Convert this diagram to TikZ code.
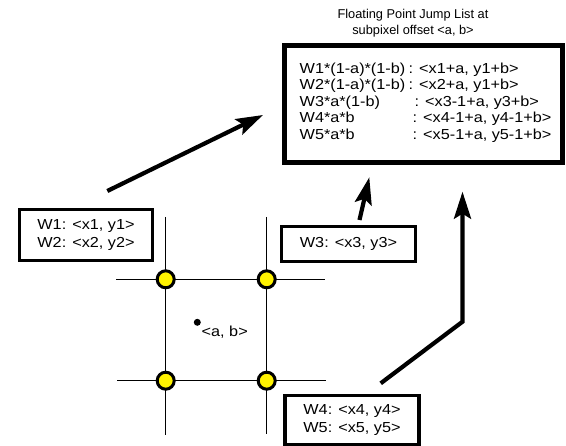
\documentclass[tikz,border=0pt]{standalone}
\usepackage{fontspec}
\setmainfont[FakeStretch=1.12]{Liberation Sans}
\newfontfamily\titlefont{Liberation Sans}
\usetikzlibrary{arrows.meta}
\tikzset{
  box/.style={draw, line width=3.6pt, rectangle, inner sep=0pt, align=center,
    font=\fontsize{14.5}{18}\selectfont},
  bigbox/.style={draw, line width=5pt, rectangle, inner sep=0pt},
  lline/.style={anchor=base west, inner sep=0pt, font=\fontsize{14.5}{16.5}\selectfont},
  gridline/.style={line width=1.3pt},
  vertex/.style={circle, draw, fill=yellow, line width=3pt, minimum size=17pt, inner sep=0pt},
  bigarrow/.style={line width=4.2pt, -{Stealth[length=27pt, width=17pt, inset=5pt]}},
}
\begin{document}
\begin{tikzpicture}[x=1pt, y=-1pt]
\useasboundingbox (0,0) rectangle (566,446);
% title
\node[align=center, font=\titlefont\fontsize{12.8}{16}\selectfont] (title) at (413,23)
  {Floating Point Jump List at\\subpixel offset <a, b>};
% big list box
\node[bigbox, minimum width=278pt, minimum height=117pt] (list) at (423,104) {};
\node[lline] (l1) at (299.5,73.5) {\makebox[109pt][l]{W1*(1-a)*(1-b)}: <x1+a, y1+b>};
\node[lline] (l2) at (299.5,90) {\makebox[109pt][l]{W2*(1-a)*(1-b)}: <x2+a, y1+b>};
\node[lline] (l3) at (299.5,106.5) {\makebox[115pt][l]{W3*a*(1-b)}: <x3-1+a, y3+b>};
\node[lline] (l4) at (299.5,123) {\makebox[113pt][l]{W4*a*b}: <x4-1+a, y4-1+b>};
\node[lline] (l5) at (299.5,139.5) {\makebox[113pt][l]{W5*a*b}: <x5-1+a, y5-1+b>};
% source boxes
\node[box, minimum width=133pt, minimum height=51pt] (w12) at (86,235) {W1: <x1, y1>\\W2: <x2, y2>};
\node[box, minimum width=134pt, minimum height=35pt] (w3) at (348.5,244) {W3: <x3, y3>};
\node[box, minimum width=134pt, minimum height=49pt] (w45) at (352,420) {W4: <x4, y4>\\W5: <x5, y5>};
% grid
\coordinate (v1t) at (165.7,217); \coordinate (v1b) at (165.7,435);
\coordinate (v2t) at (266.7,217); \coordinate (v2b) at (266.7,434);
\coordinate (h1l) at (116,279.3); \coordinate (h1r) at (325,279.3);
\coordinate (h2l) at (117,380.7); \coordinate (h2r) at (326,380.7);
\draw[gridline] (v1t) -- (v1b);
\draw[gridline] (v2t) -- (v2b);
\draw[gridline] (h1l) -- (h1r);
\draw[gridline] (h2l) -- (h2r);
\node[vertex] (p1) at (165.7,279.3) {};
\node[vertex] (p2) at (266.7,279.3) {};
\node[vertex] (p3) at (165.7,380.7) {};
\node[vertex] (p4) at (266.7,380.7) {};
% sample point
\fill (197.3,322.3) circle (3.5pt);
\node[anchor=west, inner sep=0pt, font=\fontsize{14.5}{16}\selectfont] (ab) at (201.5,332.5) {<a, b>};
% arrows
\coordinate (a1s) at (107.3,191); \coordinate (a1e) at (263,115);
\coordinate (a2s) at (359.5,220); \coordinate (a2e) at (369.3,177.3);
\coordinate (a3s) at (380.7,383.3); \coordinate (a3m) at (462.5,321.7); \coordinate (a3e) at (462.5,191.7);
\draw[bigarrow] (a1s) -- (a1e);
\draw[bigarrow] (a2s) -- (a2e);
\draw[bigarrow, line join=miter] (a3s) -- (a3m) -- (a3e);
\end{tikzpicture}
\end{document}
